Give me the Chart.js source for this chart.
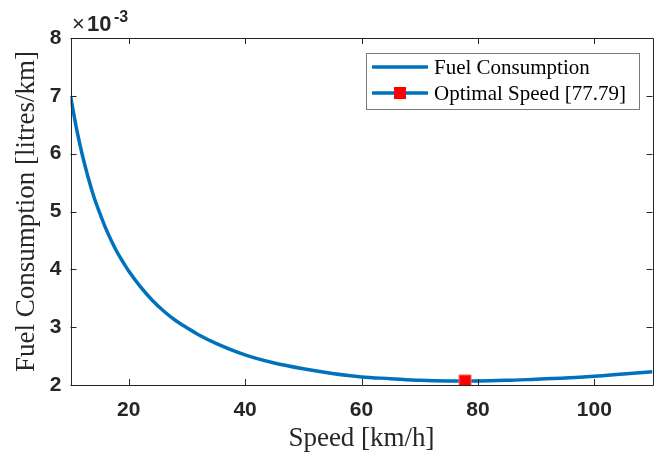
<!DOCTYPE html>
<html>
<head>
<meta charset="utf-8">
<script src="https://cdn.jsdelivr.net/npm/chart.js@4/dist/chart.umd.min.js"></script>
<style>
  html, body { margin: 0; padding: 0; background: #fff; }
  canvas { display: block; }
</style>
</head>
<body>
<canvas id="chart" width="662" height="456"></canvas>
<script>
'use strict';

// speed in km/h, fuel in units of 1e-3 litres/km
const speeds = [10, 11, 12, 13, 14, 15, 16, 17, 18, 19, 20, 22, 24, 26, 28, 30, 32, 35, 40, 45, 50, 55, 60, 65, 70, 75, 77.79, 80, 85, 90, 95, 100, 105, 110];
const fuel = [7.00, 6.45, 5.99, 5.60, 5.26, 4.98, 4.72, 4.50, 4.30, 4.13, 3.97, 3.70, 3.47, 3.28, 3.12, 2.99, 2.87, 2.72, 2.52, 2.38, 2.28, 2.20, 2.14, 2.11, 2.08, 2.07, 2.07, 2.07, 2.08, 2.10, 2.12, 2.15, 2.19, 2.23];
const optSpeed = [77.79];
const optFuel = [2.07];
const xTicks = [20, 40, 60, 80, 100];
const yTicks = [2, 3, 4, 5, 6, 7, 8];
const legendLabels = ['Fuel Consumption', 'Optimal Speed [77.79]'];

const axisColor = '#262626';
const lineColor = '#0072BD';
const serif = '"Liberation Serif", "Times New Roman", serif';
const sans = '"Liberation Sans", Arial, Helvetica, sans-serif';

// box round the plot, inside ticks, exponent label and legend
const decorations = {
    id: 'decorations',
    afterDraw(chart) {
        const ctx = chart.ctx;
        const a = chart.chartArea;
        const xs = chart.scales.x;
        const ys = chart.scales.y;
        const tl = 6;
        ctx.save();
        ctx.strokeStyle = axisColor;
        ctx.lineWidth = 1;
        ctx.beginPath();
        ctx.rect(Math.round(a.left) + 0.5, Math.round(a.top) + 0.5,
                 Math.round(a.right - a.left), Math.round(a.bottom - a.top));
        for (const v of xTicks) {
            const px = Math.round(xs.getPixelForValue(v)) + 0.5;
            ctx.moveTo(px, a.bottom); ctx.lineTo(px, a.bottom - tl);
            ctx.moveTo(px, a.top); ctx.lineTo(px, a.top + tl);
        }
        for (const v of yTicks) {
            const py = Math.round(ys.getPixelForValue(v)) + 0.5;
            ctx.moveTo(a.left, py); ctx.lineTo(a.left + tl, py);
            ctx.moveTo(a.right, py); ctx.lineTo(a.right - tl, py);
        }
        ctx.stroke();

        // x10^-3 multiplier
        ctx.fillStyle = axisColor;
        ctx.textBaseline = 'alphabetic';
        ctx.textAlign = 'left';
        ctx.font = '22px ' + sans;
        ctx.fillText('\u00d7', 72, 31);
        ctx.font = 'bold 22px ' + sans;
        ctx.fillText('10', 87, 31);
        ctx.font = 'bold 16px ' + sans;
        ctx.fillText('-3', 114, 22);

        // legend
        const bx = 366, by = 53, bw = 273, bh = 56;
        ctx.fillStyle = '#fff';
        ctx.fillRect(bx, by, bw, bh);
        ctx.lineWidth = 1;
        ctx.strokeStyle = '#7a7a7a';
        ctx.strokeRect(bx + 0.5, by + 0.5, bw, bh);
        const rows = [by + 14, by + 40];
        ctx.font = '21px ' + serif;
        ctx.textBaseline = 'middle';
        rows.forEach((ry, i) => {
            ctx.strokeStyle = lineColor;
            ctx.lineWidth = 3.5;
            ctx.beginPath();
            ctx.moveTo(bx + 6, ry); ctx.lineTo(bx + 62, ry);
            ctx.stroke();
            if (i === 1) {
                ctx.fillStyle = '#ff0000';
                ctx.fillRect(bx + 28, ry - 6, 12, 12);
            }
            ctx.fillStyle = '#000';
            ctx.fillText(legendLabels[i], bx + 68, ry + 1);
        });
        ctx.restore();
    }
};

new Chart(document.getElementById('chart'), {
    type: 'line',
    data: {
        datasets: [
            {
                label: legendLabels[0],
                data: speeds.map((s, i) => ({ x: s, y: fuel[i] })),
                borderColor: lineColor,
                borderWidth: 3.5,
                pointRadius: 0,
                cubicInterpolationMode: 'monotone',
                fill: false,
                order: 2
            },
            {
                label: legendLabels[1],
                data: optSpeed.map((s, i) => ({ x: s, y: optFuel[i] })),
                showLine: false,
                pointStyle: 'rect',
                pointRadius: 8.5,
                pointBackgroundColor: '#ff0000',
                pointBorderColor: '#ff7070',
                pointBorderWidth: 1,
                order: 1
            }
        ]
    },
    options: {
        responsive: false,
        animation: false,
        layout: { padding: { top: 38, right: 7, left: 0, bottom: 0 } },
        plugins: {
            legend: { display: false },
            tooltip: { enabled: false }
        },
        scales: {
            x: {
                type: 'linear',
                min: 10,
                max: 110,
                afterBuildTicks: (s) => { s.ticks = xTicks.map(v => ({ value: v })); },
                afterFit: (s) => { s.height = 71; },
                grid: { display: false, drawTicks: false },
                border: { display: false },
                ticks: {
                    padding: 13,
                    color: axisColor,
                    font: { family: sans, size: 21, weight: 'bold' }
                },
                title: {
                    display: true,
                    text: 'Speed [km/h]',
                    color: '#262626',
                    font: { family: serif, size: 27 },
                    padding: { top: 0, bottom: 1 }
                }
            },
            y: {
                min: 2,
                max: 8,
                afterBuildTicks: (s) => { s.ticks = yTicks.map(v => ({ value: v })); },
                afterFit: (s) => { s.width = 70.5; },
                grid: { display: false, drawTicks: false },
                border: { display: false },
                ticks: {
                    padding: 9,
                    color: axisColor,
                    font: { family: sans, size: 21, weight: 'bold' }
                },
                title: {
                    display: true,
                    text: 'Fuel Consumption [litres/km]',
                    color: '#262626',
                    font: { family: serif, size: 27 },
                    padding: { top: 11, bottom: 0 }
                }
            }
        }
    },
    plugins: [decorations]
});
</script>
</body>
</html>
